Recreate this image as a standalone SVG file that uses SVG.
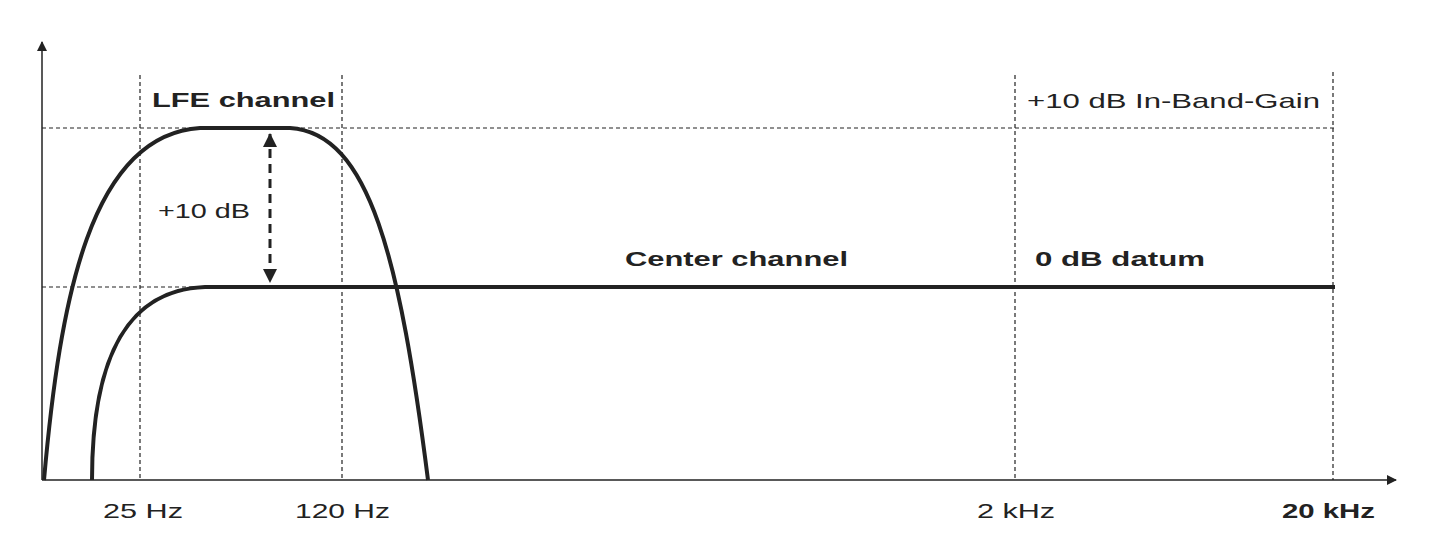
<svg xmlns="http://www.w3.org/2000/svg" width="1448" height="536" viewBox="0 0 1448 536">
<style>
.d{stroke:#222;stroke-width:1.2;stroke-dasharray:4 3;fill:none}
.c{stroke:#222;stroke-width:4;fill:none}
text{font-family:"Liberation Sans",Arial,sans-serif;font-size:21px;fill:#222}
.b{font-weight:bold}
</style>
<defs>
<marker id="ah" markerWidth="10" markerHeight="10" refX="9" refY="5" orient="auto-start-reverse" markerUnits="userSpaceOnUse"><path d="M0,0 L10,5 L0,10 z" fill="#222"/></marker>
<marker id="ah2" markerWidth="14" markerHeight="14" refX="13" refY="7" orient="auto-start-reverse" markerUnits="userSpaceOnUse"><path d="M0,0 L14,7 L0,14 z" fill="#222"/></marker>
</defs>
<rect width="1448" height="536" fill="#fff"/>
<g id="axes">
<line x1="42" y1="480" x2="42" y2="42" stroke="#222" stroke-width="1.5" marker-end="url(#ah)"/>
<line x1="42" y1="480" x2="1396" y2="480" stroke="#222" stroke-width="1.5" marker-end="url(#ah)"/>
</g>
<g id="grid">
<line class="d" x1="42" y1="128" x2="1335" y2="128"/>
<line class="d" x1="42" y1="287" x2="200" y2="287"/>
<line class="d" x1="140" y1="75" x2="140" y2="480"/>
<line class="d" x1="342" y1="75" x2="342" y2="480"/>
<line class="d" x1="1015" y1="75" x2="1015" y2="480"/>
<line class="d" x1="1333" y1="72" x2="1333" y2="480"/>
</g>
<g id="connectors">
<path class="c" d="M44,480 C60,300 90,135 200,128 L290,128 C370,133 400,260 428,480"/>
<path class="c" d="M92,480 C92,370 120,290 205,287 L1335,287"/>
<line x1="270" y1="134" x2="270" y2="282" stroke="#222" stroke-width="3" stroke-dasharray="9 6" marker-start="url(#ah2)" marker-end="url(#ah2)"/>
</g>
<g id="labels">
<text class="b" x="152" y="107" textLength="183" lengthAdjust="spacingAndGlyphs">LFE channel</text>
<text x="158" y="218" textLength="92" lengthAdjust="spacingAndGlyphs">+10 dB</text>
<text class="b" x="625" y="266" textLength="223" lengthAdjust="spacingAndGlyphs">Center channel</text>
<text class="b" x="1035" y="266" textLength="170" lengthAdjust="spacingAndGlyphs">0 dB datum</text>
<text x="1027" y="108" textLength="293" lengthAdjust="spacingAndGlyphs">+10 dB In-Band-Gain</text>
<text x="103" y="518" textLength="80" lengthAdjust="spacingAndGlyphs">25 Hz</text>
<text x="295" y="518" textLength="95" lengthAdjust="spacingAndGlyphs">120 Hz</text>
<text x="977" y="518" textLength="78" lengthAdjust="spacingAndGlyphs">2 kHz</text>
<text class="b" x="1282" y="518" textLength="93" lengthAdjust="spacingAndGlyphs">20 kHz</text>
</g>
</svg>
